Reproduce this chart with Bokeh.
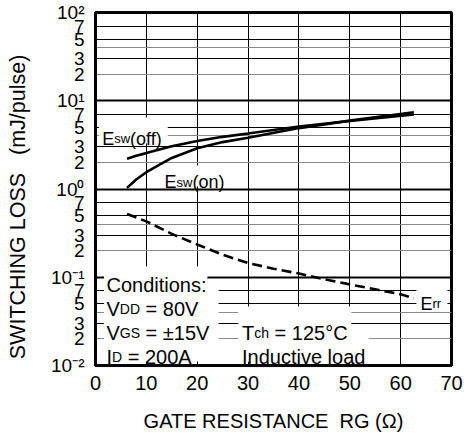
import math
from bokeh.plotting import figure
from bokeh.models import FixedTicker, Label, BoxAnnotation, Grid
from bokeh.embed import file_html
from bokeh.resources import INLINE

FONT = "Liberation Sans"

# ---------------- data ----------------
rg_sw = [6.2, 8, 10, 12, 15, 20, 25, 30, 40, 50, 62.6]
esw_off = [2.2, 2.38, 2.55, 2.75, 3.05, 3.5, 3.9, 4.25, 5.1, 5.9, 7.0]
esw_on = [1.03, 1.28, 1.55, 1.8, 2.25, 2.9, 3.4, 3.8, 4.9, 5.95, 7.4]

rg_rr = [6.2, 10, 15, 20, 25, 30, 35, 40, 45, 50, 55, 60, 62.6]
err = [0.52, 0.43, 0.31, 0.235, 0.18, 0.145, 0.125, 0.11, 0.095, 0.083, 0.073, 0.064, 0.058]

x_ticks = [0, 10, 20, 30, 40, 50, 60, 70]
x_grid = [10, 20, 30, 40, 50, 60]
y_decades = [0.01, 0.1, 1, 10, 100]
y_decade_labels = ["10\u207b\u00b2", "10\u207b\u00b9", "10\u2070", "10\u00b9", "10\u00b2"]
y_labelled_mult = [2, 3, 5, 7]
y_black_mult = [3, 5, 7]
y_gray_mult = [2, 4]

x_title = "GATE RESISTANCE\u00a0\u00a0RG (\u03a9)"
y_title = "SWITCHING LOSS\u00a0\u00a0\u00a0(mJ/pulse)"


def mults(ms):
    return [round(d * m, 10) for d in y_decades[:-1] for m in ms]


# ---------------- figure ----------------
p = figure(width=464, height=448, x_range=(0, 70), y_range=(0.01, 100),
           y_axis_type="log", output_backend="svg", toolbar_location=None,
           min_border_left=95, min_border_right=13, min_border_top=12,
           min_border_bottom=83)
p.background_fill_color = "white"
p.border_fill_color = "white"
p.outline_line_color = "black"
p.outline_line_width = 3

# axes
p.xaxis.ticker = FixedTicker(ticks=x_ticks)
y_ticks = sorted(y_decades + mults(y_labelled_mult))
p.yaxis.ticker = FixedTicker(ticks=y_ticks)
overrides = {}
for d, lab in zip(y_decades, y_decade_labels):
    overrides[d] = lab
for v in mults(y_labelled_mult):
    overrides[v] = str(int(round(v / 10 ** math.floor(math.log10(v) + 1e-9))))
p.yaxis.major_label_overrides = overrides

for ax in (p.xaxis, p.yaxis):
    ax.axis_line_color = "black"
    ax.axis_line_width = 3
    ax.major_tick_line_color = None
    ax.minor_tick_line_color = None
    ax.major_label_text_font = FONT
    ax.major_label_text_color = "black"
    ax.axis_label_text_font = FONT
    ax.axis_label_text_color = "black"
    ax.axis_label_text_font_style = "normal"
    ax.axis_label_text_font_size = "20px"
p.xaxis.major_label_text_font_size = "20px"
p.yaxis.major_label_text_font_size = "19px"
p.xaxis.major_label_standoff = 4
p.yaxis.major_label_standoff = 5
p.xaxis.axis_label = x_title
p.xaxis.axis_label_standoff = 17
p.yaxis.axis_label = y_title + "\u00a0" * 6
p.yaxis.axis_label_standoff = 18
p.yaxis.axis_label_text_font_size = "21.5px"

# grids
p.xgrid.ticker = FixedTicker(ticks=x_grid)
p.xgrid.grid_line_color = "black"
p.xgrid.grid_line_width = 1
p.ygrid.ticker = FixedTicker(ticks=y_decades)
p.ygrid.grid_line_color = "black"
p.ygrid.grid_line_width = 2
p.add_layout(Grid(dimension=1, ticker=FixedTicker(ticks=mults(y_black_mult)),
                  grid_line_color="black", grid_line_width=1))
p.add_layout(Grid(dimension=1, ticker=FixedTicker(ticks=mults(y_gray_mult)),
                  grid_line_color="#8a8a8a", grid_line_width=1))

# curves
p.line(rg_sw, esw_off, line_color="black", line_width=2.6)
p.line(rg_sw, esw_on, line_color="black", line_width=2.6)
p.line(rg_rr, err, line_color="black", line_width=2.6, line_dash="10 5")

# white masks behind the texts (grid lines interrupted there)
masks = [
    (0.7, 14.2, 6.46, 3.28),      # Esw(off)
    (12.8, 25.9, 1.85, 1.067),    # Esw(on)
    (1.67, 22.0, 0.1324, 0.0746), # Conditions:
    (1.67, 24.2, 0.0919, 0.0111), # conditions block
    (28.1, 50.3, 0.0466, 0.0111), # Tch block
    (28.1, 53.7, 0.0277, 0.0111), # Inductive load
    (63.1, 69.2, 0.0785, 0.0454), # Err
]
for l, r, t, b in masks:
    p.add_layout(BoxAnnotation(left=l, right=r, top=t, bottom=b,
                               fill_color="white", fill_alpha=1.0,
                               line_color=None))

# text helpers
W = {' ': 278, '\u00a0': 278, '(': 333, ')': 333, ':': 278, '=': 584, '\u00b1': 584,
     '\u00b0': 400, 'A': 667, 'C': 722, 'D': 722, 'E': 667, 'G': 778, 'I': 278,
     'R': 722, 'S': 667, 'T': 611, 'V': 667, '\u03a9': 768, 'a': 556, 'c': 500,
     'd': 556, 'e': 556, 'f': 278, 'h': 556, 'i': 222, 'l': 222, 'n': 556,
     'o': 556, 'r': 333, 's': 500, 't': 278, 'u': 556, 'v': 500, 'w': 722}


def tw(s, size):
    return sum(W.get(c, 556) for c in s) * size / 1000.0


def rich(pieces, x, y):
    off = 0.0
    for txt, size in pieces:
        p.add_layout(Label(x=x, y=y, x_offset=off, text=txt, text_font=FONT,
                           text_font_size=f"{size}px", text_color="black",
                           text_baseline="alphabetic", text_align="left"))
        off += tw(txt, size)


NB = "\u00a0"
rich([("E", 18), ("sw", 13), ("(off)", 18)], 1.32, 3.71)
rich([("E", 18), ("sw", 13), ("(on)", 18)], 13.57, 1.19)
rich([("E", 18), ("rr", 13)], 63.9, 0.0504)
rich([("Conditions:", 20)], 2.16, 0.0821)
rich([("V", 20), ("DD", 14), (NB + "=" + NB + "80V", 20)], 2.16, 0.0439)
rich([("V", 20), ("GS", 14), (NB + "=" + NB + "\u00b115V", 20)], 2.16, 0.02347)
rich([("I", 20), ("D", 14), (NB + "=" + NB + "200A", 20)], 2.16, 0.01255)
rich([("T", 20), ("ch", 14), (NB + "=" + NB + "125\u00b0C", 20)], 28.8, 0.02347)
rich([("Inductive load", 20)], 28.8, 0.01255)

open("out.html", "w").write(file_html(p, INLINE))
